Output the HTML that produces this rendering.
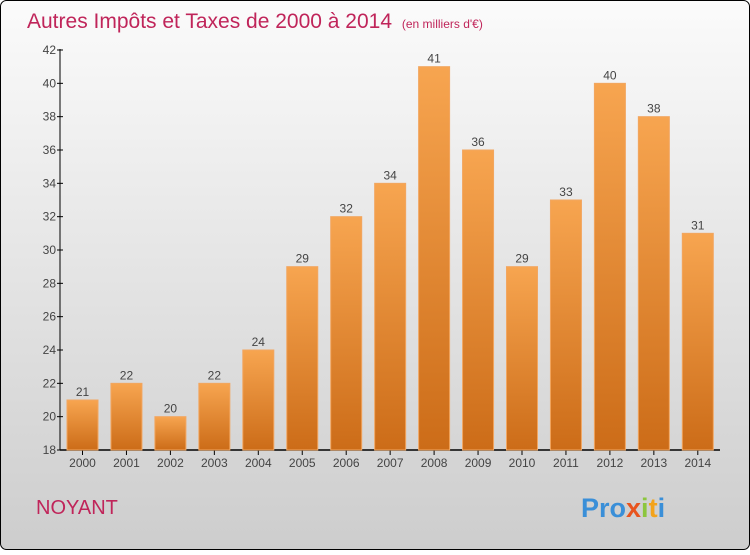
<!DOCTYPE html>
<html><head><meta charset="utf-8"><style>
body{margin:0;width:750px;height:550px;overflow:hidden;font-family:"Liberation Sans",sans-serif}
</style></head><body>
<svg width="750" height="550" xmlns="http://www.w3.org/2000/svg" font-family="Liberation Sans, sans-serif">
<defs>
<linearGradient id="bg" x1="0" y1="0" x2="0" y2="1"><stop offset="0" stop-color="#fbfbfb"/><stop offset="1" stop-color="#cdcdcd"/></linearGradient>
<linearGradient id="bar" x1="0" y1="0" x2="0" y2="1"><stop offset="0" stop-color="#f7a550"/><stop offset="1" stop-color="#cc6c18"/></linearGradient>
</defs>
<rect x="0.5" y="0.5" width="749" height="549" rx="6" fill="url(#bg)" stroke="#000"/>
<text x="27" y="28" font-size="21" fill="#c0255a">Autres Impôts et Taxes de 2000 à 2014 <tspan font-size="12" dx="4">(en milliers d'€)</tspan></text>
<g id="axes"></g><g id="bars"></g>
<text x="36" y="514" font-size="20" fill="#c0255a">NOYANT</text>
<text x="581" y="517" font-size="27" font-weight="bold"><tspan fill="#3a8fd8">Pro</tspan><tspan fill="#e8541e">x</tspan><tspan fill="#8cc63e">i</tspan><tspan fill="#f3a31b">t</tspan><tspan fill="#3a8fd8">i</tspan></text>
</svg>
<script>
const years=["2000","2001","2002","2003","2004","2005","2006","2007","2008","2009","2010","2011","2012","2013","2014"];
const values=[21,22,20,22,24,29,32,34,41,36,29,33,40,38,31];
const yTicks=[18,20,22,24,26,28,30,32,34,36,38,40,42];
const NS="http://www.w3.org/2000/svg";
const y0=450,yMin=18,yMax=42,yTop=50;
const yS=v=>y0-(v-yMin)*(y0-yTop)/(yMax-yMin);
const xS=i=>82.5+i*43.95;
const ax=document.getElementById('axes'),bg=document.getElementById('bars');
function mk(tag,attrs,parent){const e=document.createElementNS(NS,tag);for(const k in attrs)e.setAttribute(k,attrs[k]);parent.appendChild(e);return e;}
let l=mk('line',{x1:60,y1:49,x2:60,y2:450,stroke:'#000'},ax);


l=mk('line',{x1:60,y1:450,x2:720,y2:450,stroke:'#000','stroke-width':1.5},ax);


yTicks.forEach(t=>{const y=yS(t);
 mk('line',{x1:57,y1:y,x2:63,y2:y,stroke:'#000'},ax);
 const tx=mk('text',{x:56,y:y+4,'text-anchor':'end','font-size':12,fill:'#444'},ax);tx.textContent=t;
 
 });
years.forEach((yr,i)=>{const x=xS(i),v=values[i],y=yS(v);
 const r=mk('rect',{x:x-15.5,y:y,width:31,height:y0-y,fill:'url(#bar)',stroke:'#f2a660','stroke-width':1},bg);
 
 
 mk('line',{x1:x,y1:450,x2:x,y2:455,stroke:'#000'},ax);
 const lb=mk('text',{x:x,y:y-4,'text-anchor':'middle','font-size':12,fill:'#444'},bg);lb.textContent=v;
 
 
 const xl=mk('text',{x:x,y:467,'text-anchor':'middle','font-size':12,fill:'#444'},ax);xl.textContent=yr;
 
 });
</script>
</body></html>
